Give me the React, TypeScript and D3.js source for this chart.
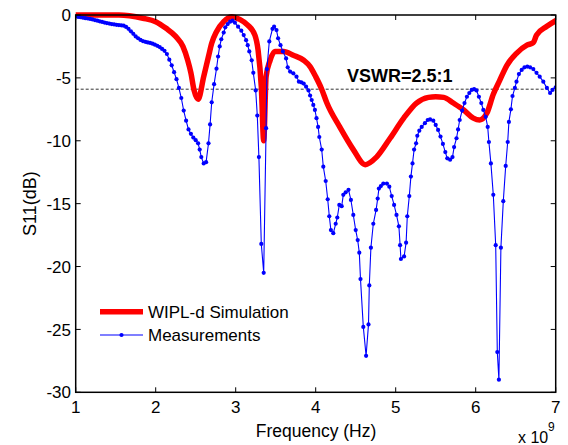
import React from "react";
import * as d3 from "d3";

// Measurement: frequency (GHz) and S11 (dB)
const measFreq = [
  1.0, 1.03, 1.06, 1.09, 1.12, 1.15, 1.18, 1.21, 1.24, 1.27, 1.3, 1.33, 1.36, 1.39, 1.42, 1.45, 1.48, 1.51, 1.54, 1.57,
  1.6, 1.63, 1.66, 1.69, 1.72, 1.75, 1.78, 1.81, 1.84, 1.87, 1.9, 1.93, 1.96, 1.99, 2.02, 2.05, 2.08, 2.11, 2.14, 2.17,
  2.2, 2.23, 2.26, 2.29, 2.32, 2.35, 2.38, 2.41, 2.44, 2.47, 2.5, 2.53, 2.55, 2.57, 2.6, 2.63, 2.66, 2.68, 2.7, 2.73,
  2.76, 2.78, 2.8, 2.82, 2.85, 2.87, 2.9, 2.93, 2.96, 2.99, 3.03, 3.07, 3.1, 3.13, 3.15, 3.17, 3.2, 3.22, 3.25, 3.27,
  3.29, 3.32, 3.35, 3.38, 3.39, 3.42, 3.46, 3.48, 3.51, 3.53, 3.56, 3.59, 3.63, 3.65, 3.68, 3.72, 3.76, 3.79, 3.82, 3.85,
  3.88, 3.91, 3.93, 3.95, 3.97, 3.99, 4.01, 4.03, 4.045, 4.075, 4.095, 4.125, 4.15, 4.17, 4.19, 4.22, 4.25, 4.27, 4.295, 4.325,
  4.345, 4.375, 4.41, 4.44, 4.47, 4.5, 4.525, 4.545, 4.56, 4.595, 4.63, 4.66, 4.67, 4.69, 4.72, 4.755, 4.775, 4.79, 4.815, 4.845,
  4.89, 4.92, 4.95, 4.98, 5.01, 5.04, 5.055, 5.065, 5.105, 5.13, 5.145, 5.17, 5.19, 5.21, 5.23, 5.255, 5.27, 5.295, 5.325, 5.365,
  5.4, 5.43, 5.47, 5.5, 5.53, 5.56, 5.59, 5.62, 5.645, 5.68, 5.71, 5.73, 5.76, 5.78, 5.8, 5.83, 5.86, 5.89, 5.92, 5.95,
  5.98, 6.01, 6.04, 6.07, 6.095, 6.125, 6.15, 6.165, 6.19, 6.22, 6.25, 6.27, 6.29, 6.315, 6.345, 6.375, 6.4, 6.415, 6.44, 6.46,
  6.49, 6.51, 6.54, 6.575, 6.61, 6.645, 6.68, 6.72, 6.76, 6.8, 6.845, 6.89, 6.93, 6.96, 7.0,
];
const measDb = [
  -0.1, -0.15, -0.18, -0.22, -0.25, -0.28, -0.31, -0.35, -0.4, -0.45, -0.5, -0.55, -0.6, -0.64, -0.68, -0.72, -0.75, -0.78, -0.8, -0.82,
  -0.85, -0.95, -1.1, -1.3, -1.5, -1.7, -1.85, -1.98, -2.07, -2.13, -2.18, -2.22, -2.28, -2.36, -2.45, -2.55, -2.7, -2.85, -3.1, -3.55,
  -4.0, -4.55, -5.1, -5.8, -6.6, -7.6, -8.4, -9.1, -9.45, -9.75, -9.95, -10.2, -10.7, -11.3, -11.8, -11.7, -10.2, -8.7, -6.94, -5.5,
  -4.27, -3.3, -2.5, -1.93, -1.4, -0.98, -0.72, -0.53, -0.45, -0.61, -0.93, -1.25, -1.6, -2.0, -2.4, -2.9, -3.6, -4.6, -6.0, -8.0,
  -11.3, -18.2, -20.5, -9.0, -4.3, -2.1, -1.1, -0.93, -1.2, -1.85, -2.4, -2.9, -3.45, -4.16, -4.5, -4.64, -4.9, -5.3, -5.35, -5.45,
  -5.7, -6.0, -6.4, -6.76, -7.15, -7.55, -8.2, -8.9, -9.7, -10.7, -12.06, -13.2, -14.65, -16.0, -17.1, -17.35, -16.6, -16.1, -15.1, -15.2,
  -14.3, -14.1, -13.9, -14.7, -15.9, -17.1, -17.9, -18.9, -21.0, -24.8, -27.1, -24.6, -21.5, -18.5, -16.6, -15.5, -14.6, -13.8, -13.6, -13.4,
  -13.4, -13.65, -14.4, -15.1, -15.9, -16.8, -18.3, -19.4, -19.2, -18.1, -16.0, -14.4, -12.85, -11.8, -10.7, -10.2, -9.6, -9.2, -8.9, -8.6,
  -8.35, -8.3, -8.4, -8.74, -9.14, -9.67, -10.25, -10.9, -11.4, -11.5, -11.3, -10.5, -9.8, -9.1, -8.35, -7.6, -7.0, -6.5, -6.2, -5.96,
  -5.9, -6.0, -6.5, -7.0, -7.55, -8.1, -8.9, -10.1, -11.8, -14.3, -18.3, -26.8, -29.0, -18.5, -14.8, -12.0, -10.1, -8.5, -7.5, -6.44,
  -5.8, -5.3, -4.7, -4.37, -4.16, -4.1, -4.16, -4.3, -4.6, -4.9, -5.3, -5.8, -6.2, -5.96, -5.75,
];

// WIPL-d simulation: frequency (GHz) and S11 (dB)
const simFreq = [
  1.0, 1.25, 1.54, 1.84, 2.0, 2.13, 2.25, 2.34, 2.4, 2.44, 2.48, 2.53, 2.6, 2.66, 2.7, 2.76, 2.85, 2.95, 3.05, 3.15,
  3.24, 3.28, 3.32, 3.35, 3.38, 3.43, 3.49, 3.6, 3.72, 3.85, 3.93, 4.0, 4.075, 4.14, 4.3, 4.47, 4.62, 4.76, 4.93, 5.1,
  5.26, 5.41, 5.5, 5.6, 5.72, 5.85, 5.97, 6.05, 6.14, 6.22, 6.3, 6.39, 6.51, 6.64, 6.72, 6.76, 6.89, 7.0,
];
const simDb = [
  0.0, 0.0, 0.0, -0.26, -0.53, -1.06, -1.7, -2.5, -3.6, -4.6, -6.0, -6.7, -4.9, -3.3, -2.25, -1.33, -0.53, -0.13, -0.35, -0.8,
  -1.6, -2.8, -5.7, -10.0, -4.9, -3.6, -2.9, -2.9, -3.2, -3.6, -4.1, -4.9, -5.9, -7.0, -8.9, -10.7, -11.9, -11.3, -9.8, -8.2,
  -7.0, -6.55, -6.5, -6.55, -7.0, -7.55, -8.2, -8.35, -7.8, -6.3, -5.2, -4.0, -3.05, -2.4, -2.2, -1.6, -0.9, -0.45,
];

const xTicks = [1, 2, 3, 4, 5, 6, 7];
const yTicks = [0, -5, -10, -15, -20, -25, -30];
const vswrLevel = -5.9;

const W = 568;
const H = 445;
const L = 75.7;
const R = 555.7;
const T = 15;
const B = 392.3;
const FONT = "Arial, 'Liberation Sans', Helvetica, sans-serif";

export default function App() {
  const x = d3.scaleLinear().domain([1, 7]).range([L, R]);
  const y = d3.scaleLinear().domain([-30, 0]).range([B, T]);

  const meas = measFreq.map((f, i) => [f, measDb[i]] as [number, number]);
  const sim = simFreq.map((f, i) => [f, simDb[i]] as [number, number]);

  const measLine = d3
    .line<[number, number]>()
    .x((d) => x(d[0]))
    .y((d) => y(d[1]));
  const simLine = d3
    .line<[number, number]>()
    .x((d) => x(d[0]))
    .y((d) => y(d[1]))
    .curve(d3.curveMonotoneX);

  const tk = 5;

  return (
    <svg
      width={W}
      height={H}
      style={{ position: "absolute", left: 0, top: 0, background: "#fff" }}
      fontFamily={FONT}
    >
      <rect x={0} y={0} width={W} height={H} fill="#fff" />
      <defs>
        <clipPath id="plotclip">
          <rect x={L} y={T - 3} width={R - L} height={B - T + 3} />
        </clipPath>
      </defs>

      {/* VSWR dashed line */}
      <line
        x1={L}
        x2={R}
        y1={y(vswrLevel)}
        y2={y(vswrLevel)}
        stroke="#333"
        strokeWidth={1}
        strokeDasharray="3,2"
      />

      <g clipPath="url(#plotclip)">
        <path d={simLine(sim) || ""} fill="none" stroke="#ff0000" strokeWidth={5.5} strokeLinejoin="round" strokeLinecap="round" />
        <path d={measLine(meas) || ""} fill="none" stroke="#0000ff" strokeWidth={1.1} />
        {meas.map((d, i) => (
          <circle key={i} cx={x(d[0])} cy={y(d[1])} r={2.1} fill="#0000ff" />
        ))}
      </g>

      {/* frame */}
      <rect x={L} y={T} width={R - L} height={B - T} fill="none" stroke="#000" strokeWidth={1.5} />

      {/* x ticks */}
      {xTicks.map((t) => (
        <g key={"x" + t}>
          <line x1={x(t)} x2={x(t)} y1={B} y2={B - tk} stroke="#000" strokeWidth={1} />
          <line x1={x(t)} x2={x(t)} y1={T} y2={T + tk} stroke="#000" strokeWidth={1} />
          <text x={x(t)} y={413} fontSize={17} textAnchor="middle" fill="#000">
            {t}
          </text>
        </g>
      ))}

      {/* y ticks */}
      {yTicks.map((t) => (
        <g key={"y" + t}>
          <line x1={L} x2={L + tk} y1={y(t)} y2={y(t)} stroke="#000" strokeWidth={1} />
          <line x1={R} x2={R - tk} y1={y(t)} y2={y(t)} stroke="#000" strokeWidth={1} />
          <text x={71} y={y(t)} dy="0.36em" fontSize={17} textAnchor="end" fill="#000">
            {t}
          </text>
        </g>
      ))}

      {/* VSWR label */}
      <text x={347} y={82} fontSize={18} fontWeight="bold" fill="#000">
        VSWR=2.5:1
      </text>

      {/* axis labels */}
      <text x={316} y={437} fontSize={17.5} textAnchor="middle" fill="#000">
        Frequency (Hz)
      </text>
      <text
        transform={`translate(36, ${(T + B) / 2}) rotate(-90)`}
        fontSize={18}
        textAnchor="middle"
        fill="#000"
      >
        S11(dB)
      </text>
      <text x={518} y={443} fontSize={16} fill="#000">
        x 10
      </text>
      <text x={548} y={431} fontSize={12} fill="#000">
        9
      </text>

      {/* legend */}
      <line x1={100} x2={143} y1={311.7} y2={311.7} stroke="#ff0000" strokeWidth={5.5} />
      <text x={148} y={311.7} dy="0.36em" fontSize={17} fill="#000">
        WIPL-d Simulation
      </text>
      <line x1={100} x2={143} y1={335} y2={335} stroke="#0000ff" strokeWidth={1.1} />
      <circle cx={121.5} cy={335} r={2.1} fill="#0000ff" />
      <text x={148} y={335} dy="0.36em" fontSize={17} fill="#000">
        Measurements
      </text>
    </svg>
  );
}
